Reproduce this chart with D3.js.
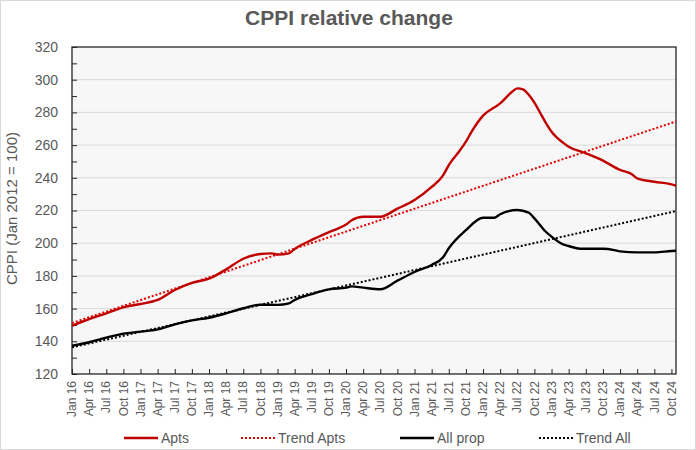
<!DOCTYPE html>
<html lang="en">
<head>
    <meta charset="UTF-8">
    <script src="https://d3js.org/d3.v7.min.js"></script>
    <title>CPPI relative change</title>
    <style>
        body {
            margin: 0;
            background-color: #ffffff;
            font-family: "Liberation Sans", Arial, sans-serif;
        }
        text {
            fill: #595959;
        }
    </style>
</head>
<body>
    <div id="chart"></div>

    <script>
        // months counted from Jan 2016 (0 = Jan 16)
        const tickLabels = [
            "Jan 16", "Apr 16", "Jul 16", "Oct 16", "Jan 17", "Apr 17", "Jul 17", "Oct 17",
            "Jan 18", "Apr 18", "Jul 18", "Oct 18", "Jan 19", "Apr 19", "Jul 19", "Oct 19",
            "Jan 20", "Apr 20", "Jul 20", "Oct 20", "Jan 21", "Apr 21", "Jul 21", "Oct 21",
            "Jan 22", "Apr 22", "Jul 22", "Oct 22", "Jan 23", "Apr 23", "Jul 23", "Oct 23",
            "Jan 24", "Apr 24", "Jul 24", "Oct 24"
        ];

        const apts = [
            [0, 149.5], [3, 153.5], [6, 157.1], [9, 160.8], [12, 162.8], [15, 165.3],
            [18, 171.4], [21, 175.8], [24, 178.3], [27, 184], [30, 190.5], [33, 193.4],
            [35, 193.8], [36, 193], [38, 193.8], [39, 196.5], [42, 202], [45, 206.8],
            [48, 211.4], [49, 214], [51, 216.2], [54, 216.2], [57, 221.1], [60, 226.4],
            [63, 234.4], [65, 241.5], [66, 247.8], [68, 257], [69, 262.1], [70, 268.2],
            [72, 278], [75, 285.5], [77, 292.3], [78, 294.7], [79, 294.1], [80, 290.8],
            [81, 286], [82, 279.8], [83, 273.6], [84, 268.2], [86, 261.5], [87, 259],
            [90, 255], [93, 250.5], [96, 244.8], [98, 242.3], [99, 239.7], [102, 237.6],
            [105, 236], [106, 235]
        ];

        const allProp = [
            [0, 137.3], [3, 139.4], [6, 142.2], [9, 144.7], [12, 145.9], [15, 147.3],
            [18, 150.4], [21, 152.8], [24, 154.4], [27, 157.1], [30, 160.2], [33, 162.4],
            [36, 162.3], [38, 163.2], [39, 165.3], [42, 168.9], [45, 171.8], [48, 172.8],
            [49, 173.6], [51, 172.8], [54, 171.8], [57, 177.1], [60, 182.4], [63, 186.7],
            [65, 191.4], [66, 196.9], [69, 208], [72, 215.6], [74, 215.6], [75, 217.7],
            [78, 220.3], [80, 218.7], [81, 215.2], [83, 207], [84, 204], [86, 199.3],
            [87, 198.3], [89, 196.6], [90, 196.6], [93, 196.6], [95, 195.8], [96, 195],
            [99, 194.4], [102, 194.4], [105, 195.2], [106, 195.4]
        ];

        // linear trend lines, start and end
        const trendApts = [[0, 151.2], [106, 274.7]];
        const trendAll = [[0, 136.3], [106, 219.8]];

        const width = 696;
        const height = 450;
        const margin = { top: 47, right: 20, bottom: 76, left: 72 };

        const svg = d3.select("#chart").append("svg")
            .attr("width", width)
            .attr("height", height);

        // outer chart border
        svg.append("rect")
            .attr("x", 0.5).attr("y", 0.5)
            .attr("width", width - 1).attr("height", height - 1)
            .attr("fill", "#ffffff")
            .attr("stroke", "#d9d9d9");

        const x = d3.scaleLinear()
            .domain([0, 105.8])
            .range([margin.left, width - margin.right]);

        const y = d3.scaleLinear()
            .domain([120, 320])
            .range([height - margin.bottom, margin.top]);

        svg.append("text")
            .attr("x", 349)
            .attr("y", 25)
            .attr("text-anchor", "middle")
            .style("font-size", "21px")
            .style("font-weight", "bold")
            .text("CPPI relative change");

        svg.append("rect")
            .attr("x", x.range()[0]).attr("y", y.range()[1])
            .attr("width", x.range()[1] - x.range()[0])
            .attr("height", y.range()[0] - y.range()[1])
            .attr("fill", "#f7f7f7");

        svg.append("clipPath").attr("id", "plot-clip")
            .append("rect")
            .attr("x", x.range()[0]).attr("y", y.range()[1])
            .attr("width", x.range()[1] - x.range()[0])
            .attr("height", y.range()[0] - y.range()[1]);

        // gridlines
        svg.append("g")
            .selectAll("line")
            .data(d3.range(140, 320, 20))
            .join("line")
            .attr("x1", x.range()[0]).attr("x2", x.range()[1])
            .attr("y1", d => y(d)).attr("y2", d => y(d))
            .attr("stroke", "#d9d9d9")
            .attr("stroke-width", 1);

        // y axis: labels on the left, ticks pointing inward
        const yAxis = svg.append("g")
            .attr("transform", `translate(${margin.left},0)`)
            .call(d3.axisRight(y).tickValues(d3.range(120, 321, 10)).tickSize(5).tickFormat(""));
        yAxis.select(".domain").remove();
        yAxis.selectAll(".tick line").attr("stroke", "#262626");

        svg.append("g")
            .selectAll("text")
            .data(d3.range(120, 321, 20))
            .join("text")
            .attr("x", margin.left - 14)
            .attr("y", d => y(d))
            .attr("dy", "0.35em")
            .attr("text-anchor", "end")
            .style("font-size", "14px")
            .text(d => d);

        svg.append("text")
            .attr("transform", `translate(17, ${(y.range()[0] + y.range()[1]) / 2 - 2}) rotate(-90)`)
            .attr("text-anchor", "middle")
            .style("font-size", "15px")
            .text("CPPI (Jan 2012 = 100)");

        // x axis: quarterly ticks pointing up into the plot
        const xTicks = tickLabels.map((d, i) => i * 3);
        const xAxis = svg.append("g")
            .attr("transform", `translate(0,${height - margin.bottom})`)
            .call(d3.axisTop(x).tickValues(xTicks).tickSize(5).tickFormat(""));
        xAxis.select(".domain").remove();
        xAxis.selectAll(".tick line").attr("stroke", "#262626");

        svg.append("g")
            .selectAll("text")
            .data(xTicks)
            .join("text")
            .attr("transform", d => `translate(${x(d)},${height - margin.bottom + 7}) rotate(-90)`)
            .attr("dy", "0.35em")
            .attr("text-anchor", "end")
            .style("font-size", "12px")
            .text((d, i) => tickLabels[i]);

        // plot border
        svg.append("rect")
            .attr("x", x.range()[0]).attr("y", y.range()[1])
            .attr("width", x.range()[1] - x.range()[0])
            .attr("height", y.range()[0] - y.range()[1])
            .attr("fill", "none")
            .attr("stroke", "#262626")
            .attr("stroke-width", 1.3);

        const line = d3.line()
            .x(d => x(d[0]))
            .y(d => y(d[1]))
            .curve(d3.curveMonotoneX);

        const series = [
            { name: "Apts", data: apts, color: "#c00000", dash: null },
            { name: "Trend Apts", data: trendApts, color: "#e00000", dash: "2,2" },
            { name: "All prop", data: allProp, color: "#000000", dash: null },
            { name: "Trend All", data: trendAll, color: "#000000", dash: "2,2" }
        ];

        const plot = svg.append("g").attr("clip-path", "url(#plot-clip)");

        // draw trends under the solid lines
        [1, 3, 0, 2].forEach(i => {
            const s = series[i];
            plot.append("path")
                .datum(s.data)
                .attr("d", line)
                .attr("fill", "none")
                .attr("stroke", s.color)
                .attr("stroke-width", s.dash ? 2 : 2.4)
                .attr("stroke-dasharray", s.dash)
                .attr("stroke-linejoin", "round");
        });

        // legend
        const legendX = [124, 241, 400, 539];
        const legend = svg.append("g");
        series.forEach((s, i) => {
            legend.append("line")
                .attr("x1", legendX[i]).attr("x2", legendX[i] + 34)
                .attr("y1", 438).attr("y2", 438)
                .attr("stroke", s.color)
                .attr("stroke-width", s.dash ? 2 : 2.4)
                .attr("stroke-dasharray", s.dash);
            legend.append("text")
                .attr("x", legendX[i] + 37)
                .attr("y", 438)
                .attr("dy", "0.35em")
                .style("font-size", "14px")
                .text(s.name);
        });
    </script>
</body>
</html>
